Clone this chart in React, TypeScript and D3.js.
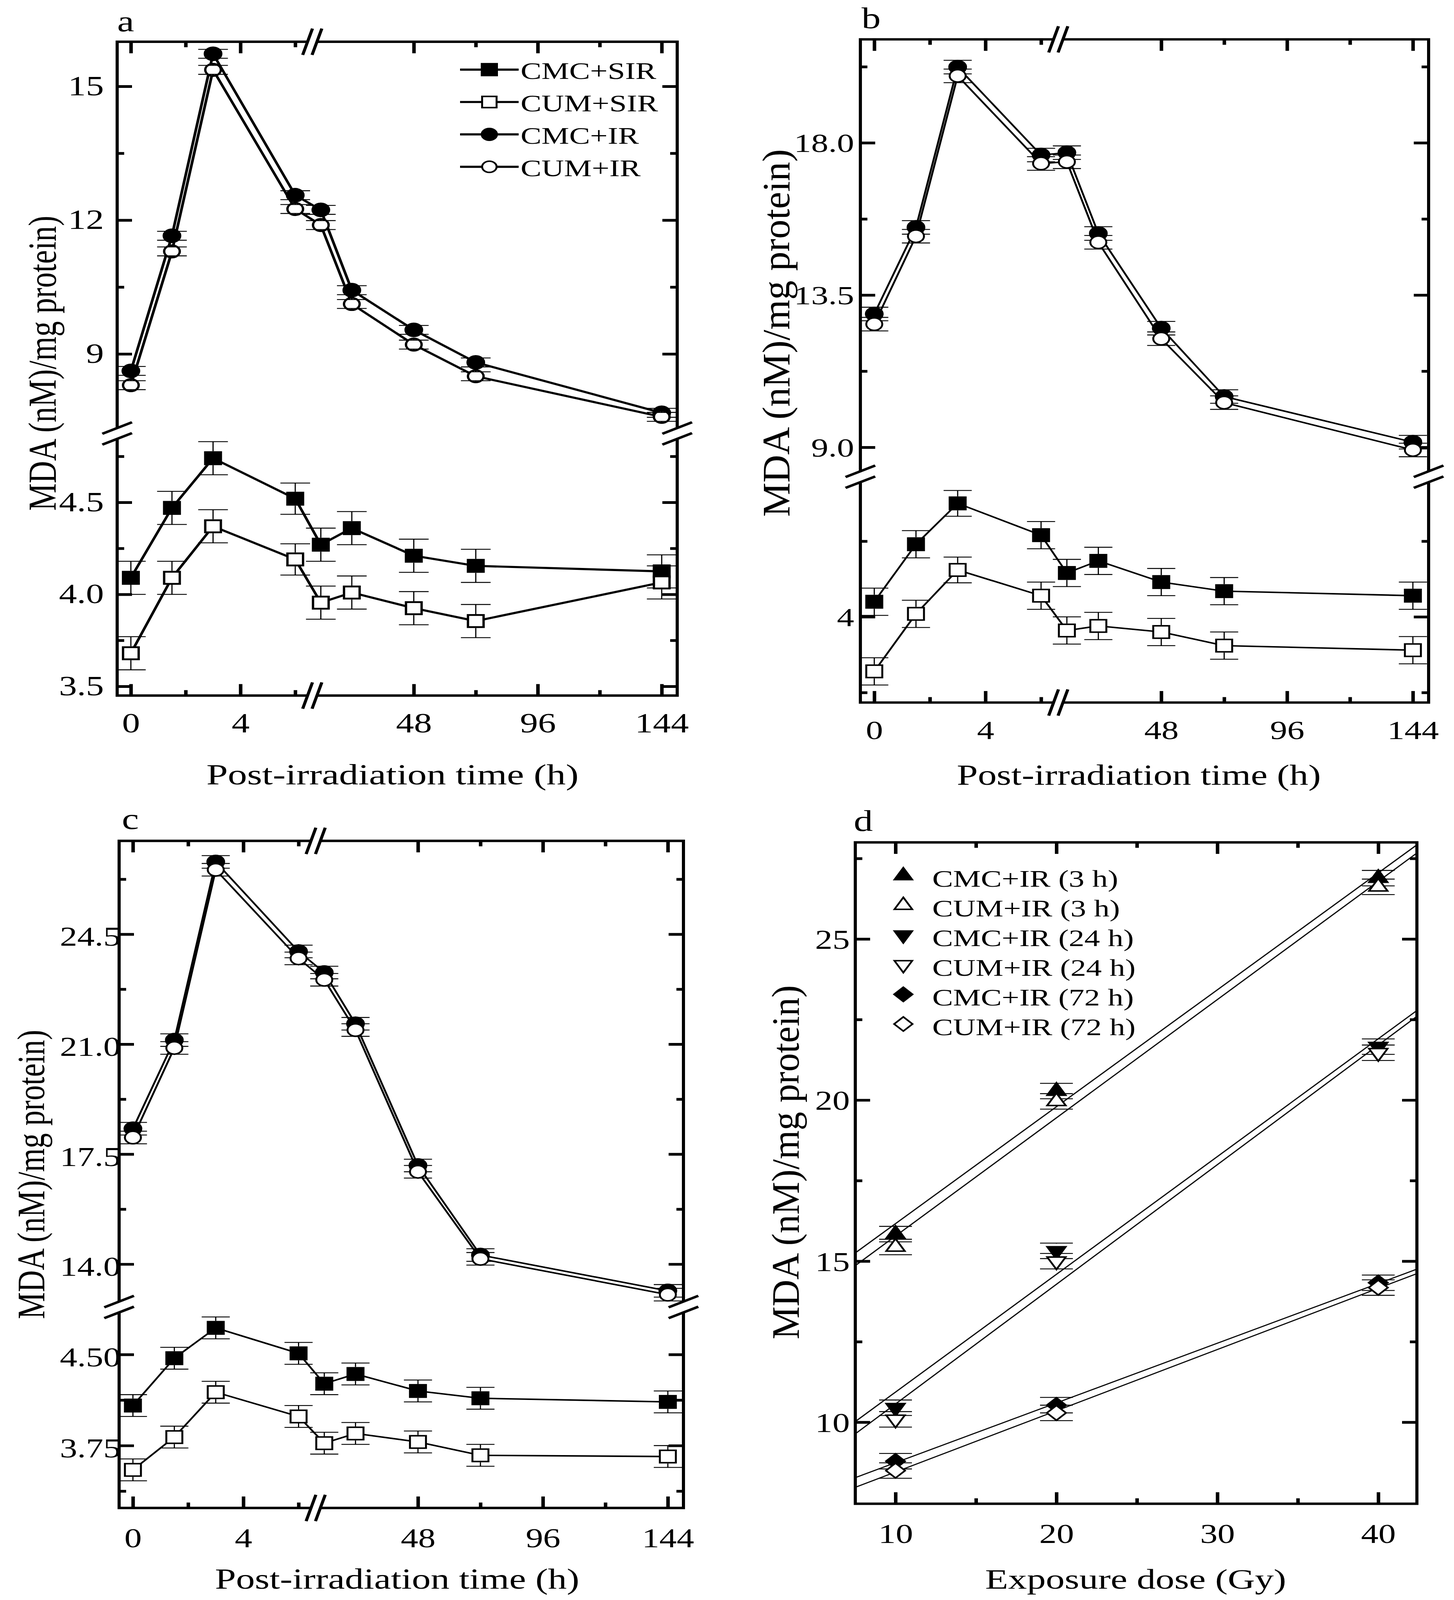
import React, { useEffect, useRef } from 'react';
import * as d3 from 'd3';

const FONT = '"Liberation Serif", "Times New Roman", Times, serif';
const W = 3723;
const H = 5286;

// sampling times (h), panels a-c
const times = [0, 1.5, 3, 6, 12, 24, 48, 72, 144];

// broken time axis: two segments
const xSeg1: [number, number] = [-0.5, 6.45];
const xSeg2: [number, number] = [10.5, 150];
const xMajor = [0, 4, 48, 96, 144];
const xMinor = [2, 6, 72, 120];

// panel a
const aCmcSir = [4.09, 4.47, 4.74, 4.52, 4.27, 4.36, 4.21, 4.155, 4.125];
const aCumSir = [3.68, 4.09, 4.37, 4.19, 3.955, 4.01, 3.925, 3.855, 4.065];
const aCmcIr = [8.62, 11.65, 15.73, 12.56, 12.23, 10.43, 9.54, 8.81, 7.68];
const aCumIr = [8.3, 11.3, 15.37, 12.25, 11.89, 10.12, 9.21, 8.5, 7.59];
const aErrSir = [0.09, 0.09, 0.09, 0.085, 0.09, 0.09, 0.09, 0.09, 0.09];
const aErrIr = [0.1, 0.1, 0.1, 0.1, 0.1, 0.1, 0.1, 0.1, 0.1];

// panel b
const bCmcSir = [4.1, 4.48, 4.75, 4.54, 4.29, 4.37, 4.23, 4.17, 4.14];
const bCumSir = [3.64, 4.02, 4.31, 4.14, 3.91, 3.94, 3.9, 3.81, 3.78];
const bCmcIr = [12.94, 15.5, 20.24, 17.64, 17.71, 15.32, 12.52, 10.5, 9.15];
const bCumIr = [12.64, 15.24, 19.98, 17.39, 17.44, 15.06, 12.21, 10.32, 8.92];
const bErrSir = [0.09, 0.09, 0.085, 0.09, 0.09, 0.09, 0.09, 0.09, 0.09];
const bErrIr = [0.2, 0.2, 0.2, 0.2, 0.2, 0.2, 0.2, 0.2, 0.2];

// panel c
const cCmcSir = [4.08, 4.47, 4.72, 4.51, 4.26, 4.34, 4.2, 4.14, 4.11];
const cCumSir = [3.55, 3.82, 4.19, 3.99, 3.77, 3.85, 3.78, 3.67, 3.66];
const cCmcIr = [18.31, 21.13, 26.8, 23.95, 23.28, 21.65, 17.14, 14.29, 13.15];
const cCumIr = [18.03, 20.88, 26.55, 23.73, 23.05, 21.45, 16.94, 14.17, 13.03];
const cErrSir = [0.09, 0.09, 0.09, 0.09, 0.09, 0.09, 0.09, 0.09, 0.09];
const cErrIr = [0.2, 0.2, 0.2, 0.2, 0.2, 0.2, 0.2, 0.2, 0.2];

// panel d: dose response
const doses = [10, 20, 40];
const dCmc3 = [15.84, 20.28, 26.89];
const dCum3 = [15.44, 19.96, 26.62];
const dCmc24 = [10.45, 15.32, 21.66];
const dCum24 = [10.09, 15.0, 21.47];
const dCmc72 = [8.79, 10.53, 14.33];
const dCum72 = [8.5, 10.29, 14.18];
const dErr = [0.24, 0.24, 0.24];

const aLegend = ['CMC+SIR', 'CUM+SIR', 'CMC+IR', 'CUM+IR'];
const dLegend = ['CMC+IR (3 h)', 'CUM+IR (3 h)', 'CMC+IR (24 h)', 'CUM+IR (24 h)', 'CMC+IR (72 h)', 'CUM+IR (72 h)'];
const yTitle = 'MDA (nM)/mg protein)';

type Shape = 'square' | 'circle' | 'up' | 'down' | 'diamond';

// draw one marker; `outer` is the full outer width incl. stroke
function marker(g: any, shape: Shape, filled: boolean, x: number, y: number, outer: number, sw: number) {
  const fill = filled ? '#000' : '#fff';
  if (shape === 'circle') {
    g.append('circle').attr('cx', x).attr('cy', y).attr('r', outer / 2 - sw / 2)
      .attr('fill', fill).attr('stroke', '#000').attr('stroke-width', sw);
  } else if (shape === 'square') {
    const s = outer - sw;
    g.append('rect').attr('x', x - s / 2).attr('y', y - s / 2).attr('width', s).attr('height', s)
      .attr('fill', fill).attr('stroke', '#000').attr('stroke-width', sw);
  } else {
    let sym;
    let rot = 0;
    if (shape === 'diamond') {
      const side = (outer - sw * 1.4) / Math.SQRT2;
      sym = d3.symbol().type(d3.symbolSquare).size(side * side);
      rot = 45;
    } else {
      const side = outer - sw * 1.7;
      sym = d3.symbol().type(d3.symbolTriangle).size((Math.sqrt(3) / 4) * side * side);
      rot = shape === 'down' ? 180 : 0;
    }
    g.append('path').attr('d', sym()).attr('transform', `translate(${x},${y}) rotate(${rot})`)
      .attr('fill', fill).attr('stroke', '#000').attr('stroke-width', sw).attr('stroke-linejoin', 'miter');
  }
}

// error bar drawn from the marker edge to the caps
function errorBar(g: any, x: number, y: number, yHi: number, yLo: number, r: number, cap: number) {
  const e = g.append('g').attr('stroke', '#000').attr('stroke-width', 3);
  e.append('line').attr('x1', x).attr('x2', x).attr('y1', y - r).attr('y2', yHi);
  e.append('line').attr('x1', x).attr('x2', x).attr('y1', y + r).attr('y2', yLo);
  e.append('line').attr('x1', x - cap).attr('x2', x + cap).attr('y1', yHi).attr('y2', yHi);
  e.append('line').attr('x1', x - cap).attr('x2', x + cap).attr('y1', yLo).attr('y2', yLo);
}

function addAxis(g: any, axis: any, tx: number, ty: number, fontSize = 90, dy: string | null = null) {
  const a = g.append('g').attr('transform', `translate(${tx},${ty})`).call(axis);
  a.select('.domain').remove();
  a.attr('font-family', FONT).attr('font-size', fontSize);
  a.selectAll('.tick line').attr('stroke-width', 9);
  a.selectAll('.tick text').attr('fill', '#000');
  if (dy) a.selectAll('.tick text').attr('dy', dy);
}

function panelText(g: any, txt: string, x: number, y: number, size: number, opts: any = {}) {
  const t = g.append('text').attr('x', x).attr('y', y).attr('font-family', FONT).attr('font-size', size)
    .attr('fill', '#000').attr('text-anchor', opts.anchor || 'start').text(txt);
  if (opts.len) t.attr('textLength', opts.len).attr('lengthAdjust', 'spacingAndGlyphs');
  return t;
}

function yTitleText(g: any, x: number, y: number, size: number, len: number | null) {
  const t = g.append('text').attr('transform', `translate(${x},${y}) rotate(-90)`).attr('text-anchor', 'middle')
    .attr('font-family', FONT).attr('font-size', size).attr('fill', '#000').text(yTitle);
  if (len) t.attr('textLength', len).attr('lengthAdjust', 'spacingAndGlyphs');
}

interface Band { domain: [number, number]; major: number[]; minor: number[]; fmt: string; }
interface Series { values: number[]; err: number[]; shape: Shape; filled: boolean; band: 'upper' | 'lower'; }
interface TimePanel {
  letter: string; letterX: number; letterY: number;
  left: number; right: number; top: number; bottom: number; breakY: number;
  upper: Band; lower: Band; series: Series[];
  lineW: number; markSW: number; cap: number;
  xLabelPad: number; yLabelPad: number; yLabelDy: number; tickFont: number;
  xTitle: string; xTitleX: number; xTitleY: number; xTitleLen: number;
  yTitleX: number; yTitleY: number; yTitleSize: number; yTitleLen: number | null;
  legend?: { x: number; y: number; dy: number; half: number; textX: number };
}

const sirIr = (cmcSir: number[], cumSir: number[], cmcIr: number[], cumIr: number[], eSir: number[], eIr: number[]): Series[] => [
  { values: cmcSir, err: eSir, shape: 'square', filled: true, band: 'lower' },
  { values: cumSir, err: eSir, shape: 'square', filled: false, band: 'lower' },
  { values: cmcIr, err: eIr, shape: 'circle', filled: true, band: 'upper' },
  { values: cumIr, err: eIr, shape: 'circle', filled: false, band: 'upper' },
];

const panelA: TimePanel = {
  letter: 'a', letterX: 300, letterY: 103,
  left: 300, right: 1734, top: 138, bottom: 2298, breakY: 1432,
  upper: { domain: [7.34, 16.0], major: [9, 12, 15], minor: [10.5, 13.5], fmt: '.0f' },
  lower: { domain: [3.45, 4.845], major: [3.5, 4.0, 4.5], minor: [3.75, 4.25, 4.75], fmt: '.1f' },
  series: sirIr(aCmcSir, aCumSir, aCmcIr, aCumIr, aErrSir, aErrIr),
  lineW: 7, markSW: 6, cap: 38, xLabelPad: 56, yLabelPad: 34, yLabelDy: 29, tickFont: 92,
  xTitle: 'Post-irradiation time  (h)', xTitleX: 1005, xTitleY: 2592, xTitleLen: 953,
  yTitleX: 143, yTitleY: 1200, yTitleSize: 102, yTitleLen: null,
  legend: { x: 1253, y: 230, dy: 107, half: 75, textX: 1333 },
};

const panelB: TimePanel = {
  letter: 'b', letterX: 2206, letterY: 93,
  left: 2203, right: 3658, top: 130, bottom: 2321, breakY: 1575,
  upper: { domain: [8.29, 21.06], major: [9, 13.5, 18], minor: [11.25, 15.75, 20.25], fmt: '.1f' },
  lower: { domain: [3.434, 4.89], major: [4], minor: [3.5, 4.5], fmt: '.0f' },
  series: sirIr(bCmcSir, bCumSir, bCmcIr, bCumIr, bErrSir, bErrIr),
  lineW: 5, markSW: 5, cap: 36, xLabelPad: 58, yLabelPad: 16, yLabelDy: 30, tickFont: 88,
  xTitle: 'Post-irradiation time (h)', xTitleX: 2916, xTitleY: 2593, xTitleLen: 932,
  yTitleX: 2021, yTitleY: 1100, yTitleSize: 100, yTitleLen: 1215,
};

const panelC: TimePanel = {
  letter: 'c', letterX: 312, letterY: 2738,
  left: 305, right: 1750, top: 2778, bottom: 4982, breakY: 4318,
  upper: { domain: [12.81, 27.47], major: [14, 17.5, 21, 24.5], minor: [15.75, 19.25, 22.75, 26.25], fmt: '.1f' },
  lower: { domain: [3.236, 4.847], major: [3.75, 4.5], minor: [3.375, 4.125], fmt: '.2f' },
  series: sirIr(cCmcSir, cCumSir, cCmcIr, cCumIr, cErrSir, cErrIr),
  lineW: 5, markSW: 5, cap: 36, xLabelPad: 66, yLabelPad: -4, yLabelDy: 38, tickFont: 89,
  xTitle: 'Post-irradiation time (h)', xTitleX: 1017, xTitleY: 5248, xTitleLen: 933,
  yTitleX: 113, yTitleY: 3880, yTitleSize: 100, yTitleLen: null,
};

function drawTimePanel(svg: any, p: TimePanel) {
  const g = svg.append('g');
  const width = p.right - p.left;
  const gapX = p.left + 0.34 * width + 12; // centre of the x-axis break
  const gx1 = gapX - 12;
  const gx2 = gapX + 12;
  const gy1 = p.breakY - 18;
  const gy2 = p.breakY + 18;
  const xs1 = d3.scaleLinear().domain(xSeg1).range([p.left, gx1]);
  const xs2 = d3.scaleLinear().domain(xSeg2).range([gx2, p.right]);
  const xPos = (t: number) => (t <= xSeg1[1] ? xs1(t) : xs2(t));
  const yU = d3.scaleLinear().domain(p.upper.domain).range([gy1, p.top]);
  const yL = d3.scaleLinear().domain(p.lower.domain).range([p.bottom, gy2]);

  // ticks (inward, mirrored on all sides)
  const inSeg1 = (v: number) => v <= xSeg1[1];
  const fmtX = d3.format('d');
  const none = () => '';
  [[xs1, inSeg1], [xs2, (v: number) => !inSeg1(v)]].forEach(([sc, keep]: any) => {
    const maj = xMajor.filter(keep);
    const min = xMinor.filter(keep);
    addAxis(g, d3.axisBottom(sc).tickValues(maj).tickSize(-38).tickPadding(p.xLabelPad).tickFormat(fmtX), 0, p.bottom, p.tickFont);
    addAxis(g, d3.axisBottom(sc).tickValues(min).tickSize(-18).tickFormat(none), 0, p.bottom);
    addAxis(g, d3.axisTop(sc).tickValues(maj).tickSize(-38).tickFormat(none), 0, p.top);
    addAxis(g, d3.axisTop(sc).tickValues(min).tickSize(-18).tickFormat(none), 0, p.top);
  });
  [[yU, p.upper], [yL, p.lower]].forEach(([sc, band]: any) => {
    addAxis(g, d3.axisLeft(sc).tickValues(band.major).tickSize(-38).tickPadding(p.yLabelPad).tickFormat(d3.format(band.fmt)),
      p.left, 0, p.tickFont, `${p.yLabelDy}px`);
    addAxis(g, d3.axisLeft(sc).tickValues(band.minor).tickSize(-18).tickFormat(none), p.left, 0);
    addAxis(g, d3.axisRight(sc).tickValues(band.major).tickSize(-38).tickFormat(none), p.right, 0);
    addAxis(g, d3.axisRight(sc).tickValues(band.minor).tickSize(-18).tickFormat(none), p.right, 0);
  });

  // frame with gaps at the breaks
  const frame = g.append('g').attr('fill', 'none').attr('stroke', '#000').attr('stroke-width', 8).attr('stroke-linejoin', 'miter');
  frame.append('path').attr('d', `M${gx1},${p.top}H${p.left}V${gy1}`);
  frame.append('path').attr('d', `M${gx2},${p.top}H${p.right}V${gy1}`);
  frame.append('path').attr('d', `M${p.left},${gy2}V${p.bottom}H${gx1}`);
  frame.append('path').attr('d', `M${p.right},${gy2}V${p.bottom}H${gx2}`);
  // break marks
  [p.top, p.bottom].forEach((y) => [gx1, gx2].forEach((x) =>
    frame.append('line').attr('x1', x - 12.5).attr('y1', y + 43.5).attr('x2', x + 12.5).attr('y2', y - 43.5)));
  [p.left, p.right].forEach((x) => [gy1, gy2].forEach((y) =>
    frame.append('line').attr('x1', x - 38).attr('y1', y + 19).attr('x2', x + 38).attr('y2', y - 19)));

  // series
  const line = d3.line();
  p.series.forEach((s) => {
    const ys = s.band === 'upper' ? yU : yL;
    const pts: [number, number][] = times.map((t, i) => [xPos(t), ys(s.values[i])]);
    g.append('path').attr('d', line(pts)).attr('fill', 'none').attr('stroke', '#000')
      .attr('stroke-width', p.lineW).attr('stroke-linejoin', 'round');
    const outer = s.shape === 'circle' ? (s.filled ? 48 : 46) : 46;
    pts.forEach(([x, y]) => marker(g, s.shape, s.filled, x, y, outer, p.markSW));
    pts.forEach(([x, y], i) =>
      errorBar(g, x, y, ys(s.values[i] + s.err[i]), ys(s.values[i] - s.err[i]), outer / 2, p.cap));
  });

  // legend
  if (p.legend) {
    const L = p.legend;
    p.series.forEach((s, i) => {
      const y = L.y + i * L.dy;
      g.append('line').attr('x1', L.x - L.half).attr('x2', L.x + L.half).attr('y1', y).attr('y2', y)
        .attr('stroke', '#000').attr('stroke-width', p.lineW);
      marker(g, s.shape, s.filled, L.x, y, s.filled ? 44 : 42, 5);
      panelText(g, aLegend[i], L.textX, y + 31, 80);
    });
  }

  panelText(g, p.letter, p.letterX, p.letterY, 98);
  panelText(g, p.xTitle, p.xTitleX, p.xTitleY, 96, { anchor: 'middle', len: p.xTitleLen });
  yTitleText(g, p.yTitleX, p.yTitleY, p.yTitleSize, p.yTitleLen);
}

function fit(xv: number[], yv: number[]) {
  const mx = d3.mean(xv) as number;
  const my = d3.mean(yv) as number;
  const sxy = d3.sum(xv, (x, i) => (x - mx) * (yv[i] - my));
  const sxx = d3.sum(xv, (x) => (x - mx) * (x - mx));
  const b = sxy / sxx;
  return { a: my - b * mx, b };
}

function drawDosePanel(svg: any) {
  const left = 2190, right = 3628, top = 2783, bottom = 4968;
  const g = svg.append('g');
  const xs = d3.scaleLinear().domain([7.5, 42.4]).range([left, right]);
  const ys = d3.scaleLinear().domain([7.47, 28]).range([bottom, top]);
  const none = () => '';

  addAxis(g, d3.axisBottom(xs).tickValues([10, 20, 30, 40]).tickSize(-38).tickPadding(66).tickFormat(d3.format('d')), 0, bottom, 89);
  addAxis(g, d3.axisBottom(xs).tickValues([15, 25, 35]).tickSize(-18).tickFormat(none), 0, bottom);
  addAxis(g, d3.axisTop(xs).tickValues([10, 20, 30, 40]).tickSize(-38).tickFormat(none), 0, top);
  addAxis(g, d3.axisTop(xs).tickValues([15, 25, 35]).tickSize(-18).tickFormat(none), 0, top);
  addAxis(g, d3.axisLeft(ys).tickValues([10, 15, 20, 25]).tickSize(-38).tickPadding(14).tickFormat(d3.format('d')), left, 0, 89, '32px');
  addAxis(g, d3.axisLeft(ys).tickValues([12.5, 17.5, 22.5, 27.5]).tickSize(-18).tickFormat(none), left, 0);
  addAxis(g, d3.axisRight(ys).tickValues([10, 15, 20, 25]).tickSize(-38).tickFormat(none), right, 0);
  addAxis(g, d3.axisRight(ys).tickValues([12.5, 17.5, 22.5, 27.5]).tickSize(-18).tickFormat(none), right, 0);

  g.append('rect').attr('x', left).attr('y', top).attr('width', right - left).attr('height', bottom - top)
    .attr('fill', 'none').attr('stroke', '#000').attr('stroke-width', 8);

  g.append('clipPath').attr('id', 'clipD').append('rect')
    .attr('x', left).attr('y', top).attr('width', right - left).attr('height', bottom - top);

  const groups: { v: number[]; shape: Shape; filled: boolean }[] = [
    { v: dCmc3, shape: 'up', filled: true },
    { v: dCum3, shape: 'up', filled: false },
    { v: dCmc24, shape: 'down', filled: true },
    { v: dCum24, shape: 'down', filled: false },
    { v: dCmc72, shape: 'diamond', filled: true },
    { v: dCum72, shape: 'diamond', filled: false },
  ];

  // least-squares fit lines over the full dose range
  const fits = g.append('g').attr('clip-path', 'url(#clipD)');
  const [x0, x1] = xs.domain();
  groups.forEach((gr) => {
    const f = fit(doses, gr.v);
    fits.append('line').attr('x1', xs(x0)).attr('y1', ys(f.a + f.b * x0))
      .attr('x2', xs(x1)).attr('y2', ys(f.a + f.b * x1))
      .attr('stroke', '#000').attr('stroke-width', 3.5);
  });

  groups.forEach((gr) => {
    doses.forEach((d, i) => marker(g, gr.shape, gr.filled, xs(d), ys(gr.v[i]), 56, 5));
    doses.forEach((d, i) =>
      errorBar(g, xs(d), ys(gr.v[i]), ys(gr.v[i] + dErr[i]), ys(gr.v[i] - dErr[i]), 24, 42));
  });

  // legend
  groups.forEach((gr, i) => {
    const base = 2930 + i * 98;
    marker(g, gr.shape, gr.filled, 2313, base - 37, 54, 5);
    panelText(g, dLegend[i], 2387, base, 80);
  });

  panelText(g, 'd', 2186, 2745, 98);
  panelText(g, 'Exposure dose (Gy)', 2908, 5248, 94, { anchor: 'middle', len: 771 });
  yTitleText(g, 2045, 3840, 100, 1170);
}

export default function App() {
  const ref = useRef<SVGSVGElement | null>(null);

  useEffect(() => {
    if (!ref.current) return;
    const svg = d3.select(ref.current);
    svg.selectAll('*').remove();
    svg.append('rect').attr('width', W).attr('height', H).attr('fill', '#fff');
    [panelA, panelB, panelC].forEach((p) => drawTimePanel(svg, p));
    drawDosePanel(svg);
  }, []);

  // the figure is scaled to whatever viewport the page gets
  return (
    <svg
      ref={ref}
      viewBox={`0 0 ${W} ${H}`}
      preserveAspectRatio="none"
      style={{ position: 'fixed', left: 0, top: 0, width: '100vw', height: '100vh', background: '#fff' }}
    />
  );
}
